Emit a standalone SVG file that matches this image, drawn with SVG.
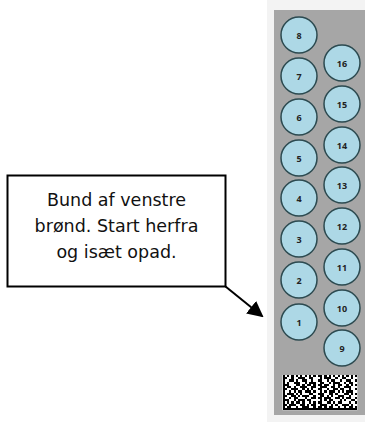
<svg xmlns="http://www.w3.org/2000/svg" width="365" height="422" viewBox="0 0 365 422">
<style>
.well circle{fill:#add8e6;stroke:#2c4a50;stroke-width:1.5}
.well text{font-family:"Open Sans","Liberation Sans",sans-serif;font-weight:bold;font-size:9px;fill:#222;text-anchor:middle;dominant-baseline:central}
.callout text{font-family:"DejaVu Sans","Liberation Sans",sans-serif;font-size:17.5px;fill:#111;text-anchor:middle}
</style>
<defs>
<marker id="ah" markerWidth="8" markerHeight="8" refX="7" refY="4" orient="auto" markerUnits="strokeWidth"><path d="M0,0 L8,4 L0,8 z" fill="#000"/></marker>
</defs>
<rect x="0" y="0" width="365" height="422" fill="#fff"/>
<rect x="267" y="0" width="98" height="422" fill="#f3f3f3"/>
<rect id="plate" x="274" y="10" width="91" height="405" fill="#a6a6a6"/>
<g id="w8" class="well"><circle cx="299" cy="35" r="18"/><text x="299" y="35">8</text></g>
<g id="w7" class="well"><circle cx="299" cy="76" r="18"/><text x="299" y="76">7</text></g>
<g id="w6" class="well"><circle cx="299" cy="117" r="18"/><text x="299" y="117">6</text></g>
<g id="w5" class="well"><circle cx="299" cy="158" r="18"/><text x="299" y="158">5</text></g>
<g id="w4" class="well"><circle cx="299" cy="198" r="18"/><text x="299" y="198">4</text></g>
<g id="w3" class="well"><circle cx="299" cy="239" r="18"/><text x="299" y="239">3</text></g>
<g id="w2" class="well"><circle cx="299" cy="280" r="18"/><text x="299" y="280">2</text></g>
<g id="w1" class="well"><circle cx="299" cy="322" r="18"/><text x="299" y="322">1</text></g>
<g id="w16" class="well"><circle cx="342" cy="63" r="18"/><text x="342" y="63">16</text></g>
<g id="w15" class="well"><circle cx="342" cy="104" r="18"/><text x="342" y="104">15</text></g>
<g id="w14" class="well"><circle cx="342" cy="145" r="18"/><text x="342" y="145">14</text></g>
<g id="w13" class="well"><circle cx="342" cy="185" r="18"/><text x="342" y="185">13</text></g>
<g id="w12" class="well"><circle cx="342" cy="226" r="18"/><text x="342" y="226">12</text></g>
<g id="w11" class="well"><circle cx="342" cy="267" r="18"/><text x="342" y="267">11</text></g>
<g id="w10" class="well"><circle cx="342" cy="308" r="18"/><text x="342" y="308">10</text></g>
<g id="w9" class="well"><circle cx="342" cy="348" r="18"/><text x="342" y="348">9</text></g>
<g id="datamatrix">
<rect x="282.5" y="375" width="74.8" height="35.2" fill="#fff"/>
<g transform="translate(282.5,375) scale(2.2)" shape-rendering="crispEdges">
<path fill="#000" d="M0 0h1v1h-1zM2 0h1v1h-1zM4 0h1v1h-1zM6 0h1v1h-1zM8 0h1v1h-1zM10 0h1v1h-1zM12 0h1v1h-1zM14 0h1v1h-1zM16 0h2v1h-2zM19 0h1v1h-1zM21 0h1v1h-1zM23 0h1v1h-1zM25 0h1v1h-1zM27 0h1v1h-1zM29 0h1v1h-1zM31 0h1v1h-1zM33 0h1v1h-1z
M0 1h2v1h-2zM4 1h1v1h-1zM7 1h3v1h-3zM12 1h2v1h-2zM17 1h1v1h-1zM19 1h3v1h-3zM24 1h1v1h-1zM27 1h2v1h-2zM31 1h1v1h-1z
M0 2h1v1h-1zM3 2h2v1h-2zM6 2h1v1h-1zM9 2h2v1h-2zM13 2h1v1h-1zM16 2h2v1h-2zM20 2h1v1h-1zM22 2h2v1h-2zM26 2h1v1h-1zM29 2h2v1h-2zM33 2h1v1h-1z
M0 3h1v1h-1zM2 3h1v1h-1zM5 3h3v1h-3zM10 3h1v1h-1zM12 3h3v1h-3zM17 3h2v1h-2zM21 3h1v1h-1zM23 3h3v1h-3zM28 3h1v1h-1zM30 3h2v1h-2z
M0 4h3v1h-3zM6 4h2v1h-2zM9 4h1v1h-1zM11 4h2v1h-2zM14 4h1v1h-1zM16 4h2v1h-2zM19 4h2v1h-2zM23 4h1v1h-1zM25 4h2v1h-2zM29 4h1v1h-1zM31 4h1v1h-1zM33 4h1v1h-1z
M0 5h1v1h-1zM2 5h2v1h-2zM5 5h1v1h-1zM8 5h3v1h-3zM13 5h2v1h-2zM17 5h3v1h-3zM22 5h2v1h-2zM25 5h1v1h-1zM28 5h3v1h-3z
M0 6h2v1h-2zM4 6h3v1h-3zM9 6h1v1h-1zM11 6h1v1h-1zM13 6h1v1h-1zM16 6h2v1h-2zM20 6h1v1h-1zM23 6h2v1h-2zM26 6h2v1h-2zM30 6h1v1h-1zM33 6h1v1h-1z
M0 7h1v1h-1zM3 7h1v1h-1zM5 7h1v1h-1zM7 7h2v1h-2zM10 7h3v1h-3zM14 7h1v1h-1zM17 7h1v1h-1zM19 7h1v1h-1zM21 7h3v1h-3zM25 7h1v1h-1zM27 7h1v1h-1zM29 7h3v1h-3z
M0 8h1v1h-1zM2 8h3v1h-3zM6 8h1v1h-1zM8 8h1v1h-1zM12 8h2v1h-2zM16 8h3v1h-3zM21 8h2v1h-2zM24 8h1v1h-1zM28 8h2v1h-2zM31 8h1v1h-1zM33 8h1v1h-1z
M0 9h2v1h-2zM4 9h2v1h-2zM7 9h1v1h-1zM9 9h3v1h-3zM14 9h1v1h-1zM17 9h2v1h-2zM20 9h1v1h-1zM22 9h1v1h-1zM25 9h3v1h-3zM30 9h1v1h-1z
M0 10h1v1h-1zM3 10h1v1h-1zM5 10h2v1h-2zM10 10h1v1h-1zM13 10h2v1h-2zM16 10h2v1h-2zM19 10h3v1h-3zM24 10h2v1h-2zM27 10h1v1h-1zM29 10h2v1h-2zM33 10h1v1h-1z
M0 11h3v1h-3zM5 11h1v1h-1zM7 11h3v1h-3zM11 11h2v1h-2zM17 11h1v1h-1zM19 11h1v1h-1zM21 11h2v1h-2zM26 11h1v1h-1zM28 11h1v1h-1zM31 11h2v1h-2z
M0 12h1v1h-1zM2 12h1v1h-1zM4 12h1v1h-1zM6 12h2v1h-2zM9 12h1v1h-1zM12 12h1v1h-1zM14 12h1v1h-1zM16 12h2v1h-2zM20 12h2v1h-2zM23 12h1v1h-1zM25 12h2v1h-2zM30 12h1v1h-1zM33 12h1v1h-1z
M0 13h2v1h-2zM3 13h3v1h-3zM8 13h2v1h-2zM11 13h1v1h-1zM13 13h2v1h-2zM17 13h3v1h-3zM22 13h1v1h-1zM24 13h1v1h-1zM27 13h3v1h-3zM31 13h1v1h-1z
M0 14h1v1h-1zM2 14h2v1h-2zM6 14h1v1h-1zM9 14h3v1h-3zM14 14h1v1h-1zM16 14h2v1h-2zM19 14h1v1h-1zM21 14h2v1h-2zM25 14h1v1h-1zM28 14h1v1h-1zM30 14h2v1h-2zM33 14h1v1h-1z
M0 15h34v1h-34z"/>
</g>
</g>
<g id="callout" class="callout">
<rect x="7.5" y="175.5" width="218" height="111" fill="#fff" stroke="#000" stroke-width="2"/>
<text x="116.5" y="206">Bund af venstre</text>
<text x="116.5" y="232">brønd. Start herfra</text>
<text x="116.5" y="258">og isæt opad.</text>
</g>
<g id="connectors">
<line x1="225.5" y1="286.5" x2="262" y2="316" stroke="#000" stroke-width="2" marker-end="url(#ah)"/>
</g>
</svg>
